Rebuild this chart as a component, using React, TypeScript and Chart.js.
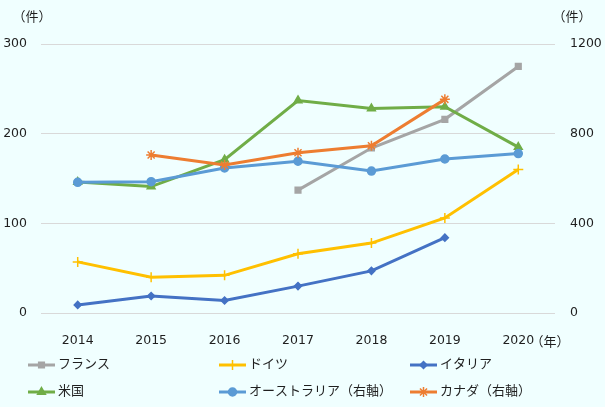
import { useEffect, useRef } from 'react';
import { Chart, registerables } from 'chart.js';
import { drawPoint } from 'chart.js/helpers';

Chart.register(...registerables);

const years = ['2014', '2015', '2016', '2017', '2018', '2019', '2020'];

const france = [null, null, null, 137, 184, 216, 275];
const germany = [57, 40, 42, 66, 78, 106, 160];
const italy = [9, 19, 14, 30, 47, 84, null];
const usa = [146, 141, 171, 237, 228, 230, 185];
const australia = [583, 586, 647, 677, 633, 687, 711];
const canada = [null, 705, 660, 715, 746, 953, null];

const leftTicks = [0, 100, 200, 300];
const rightTicks = [0, 400, 800, 1200];

const FONT = '"DejaVu Sans", "Noto Sans CJK JP", sans-serif';
const TEXT = '#1f1f1f';

const series = [
  { label: 'フランス', data: france, color: '#A5A5A5', style: 'rect', radius: 4, axis: 'y' },
  { label: 'ドイツ', data: germany, color: '#FFC000', style: 'cross', radius: 5, axis: 'y' },
  { label: 'イタリア', data: italy, color: '#4472C4', style: 'rectRot', radius: 3.5, axis: 'y' },
  { label: '米国', data: usa, color: '#70AD47', style: 'triangle', radius: 4.5, axis: 'y' },
  { label: 'オーストラリア（右軸）', data: australia, color: '#5B9BD5', style: 'circle', radius: 4, axis: 'y1' },
  { label: 'カナダ（右軸）', data: canada, color: '#ED7D31', style: 'star', radius: 5, axis: 'y1' },
];

// legend slots: [lineStartX, rowY]
const legendSlots = [
  [28, 365], [219, 365], [410, 365],
  [28, 392], [219, 392], [410, 392],
];

const decorPlugin = {
  id: 'decor',
  beforeDraw(chart: Chart) {
    const ctx = chart.ctx;
    ctx.save();
    ctx.fillStyle = '#F0FFFF';
    ctx.fillRect(0, 0, chart.width, chart.height);
    ctx.restore();
  },
  afterDraw(chart: Chart) {
    const ctx = chart.ctx;
    ctx.save();
    ctx.font = `13px ${FONT}`;
    ctx.fillStyle = TEXT;
    ctx.textBaseline = 'middle';
    ctx.textAlign = 'center';
    ctx.fillText('（件）', 32, 18);
    ctx.fillText('（件）', 572, 18);
    ctx.fillText('（年）', 550, 343);

    ctx.textAlign = 'left';
    series.forEach((s, i) => {
      const [x, y] = legendSlots[i];
      ctx.strokeStyle = s.color;
      ctx.lineWidth = 3;
      ctx.beginPath();
      ctx.moveTo(x, y);
      ctx.lineTo(x + 27, y);
      ctx.stroke();
      ctx.fillStyle = s.color;
      ctx.lineWidth = 1.5;
      drawPoint(ctx, { pointStyle: s.style, radius: s.radius, rotation: 0, borderWidth: 1.5 } as any, x + 13.5, y);
      ctx.fillStyle = TEXT;
      ctx.fillText(s.label, x + 30, y);
    });
    ctx.restore();
  },
};

export default function App() {
  const canvasRef = useRef<HTMLCanvasElement>(null);
  const chartRef = useRef<Chart | null>(null);

  useEffect(() => {
    if (!canvasRef.current) return;
    if (chartRef.current) chartRef.current.destroy();

    chartRef.current = new Chart(canvasRef.current, {
      type: 'line',
      data: {
        labels: years,
        datasets: series.map((s, i) => ({
          label: s.label,
          data: s.data,
          yAxisID: s.axis,
          borderColor: s.color,
          backgroundColor: s.color,
          pointBackgroundColor: s.color,
          pointBorderColor: s.color,
          pointBorderWidth: 1.5,
          pointStyle: s.style as any,
          pointRadius: s.radius,
          borderWidth: 3,
          tension: 0,
          order: series.length - i,
        })),
      },
      options: {
        responsive: true,
        maintainAspectRatio: false,
        animation: false,
        layout: { padding: { top: 44, left: 0, right: 0, bottom: 0 } },
        plugins: {
          legend: { display: false },
          tooltip: { enabled: false },
        },
        scales: {
          x: {
            offset: true,
            grid: { display: false },
            border: { display: false },
            ticks: { color: TEXT, font: { family: FONT, size: 12.5 }, padding: 12, maxRotation: 0 },
            afterFit: (scale: any) => { scale.height = 94; },
          },
          y: {
            position: 'left',
            min: 0,
            max: 300,
            afterBuildTicks: (scale: any) => { scale.ticks = leftTicks.map((v) => ({ value: v })); },
            grid: { color: '#D9D9D9', drawTicks: false, lineWidth: 1 },
            border: { display: false },
            ticks: { color: TEXT, font: { family: FONT, size: 12.5 }, padding: 14, callback: (v: any) => String(v) },
            afterFit: (scale: any) => { scale.width = 41; },
          },
          y1: {
            position: 'right',
            min: 0,
            max: 1200,
            afterBuildTicks: (scale: any) => { scale.ticks = rightTicks.map((v) => ({ value: v })); },
            grid: { display: false, drawTicks: false },
            border: { display: false },
            ticks: { color: TEXT, font: { family: FONT, size: 12.5 }, padding: 15, callback: (v: any) => String(v) },
            afterFit: (scale: any) => { scale.width = 50; },
          },
        },
      },
      plugins: [decorPlugin],
    });

    return () => {
      if (chartRef.current) {
        chartRef.current.destroy();
        chartRef.current = null;
      }
    };
  }, []);

  return (
    <div style={{ position: 'absolute', left: 0, top: 0, width: 605, height: 407 }}>
      <canvas ref={canvasRef} />
    </div>
  );
}
